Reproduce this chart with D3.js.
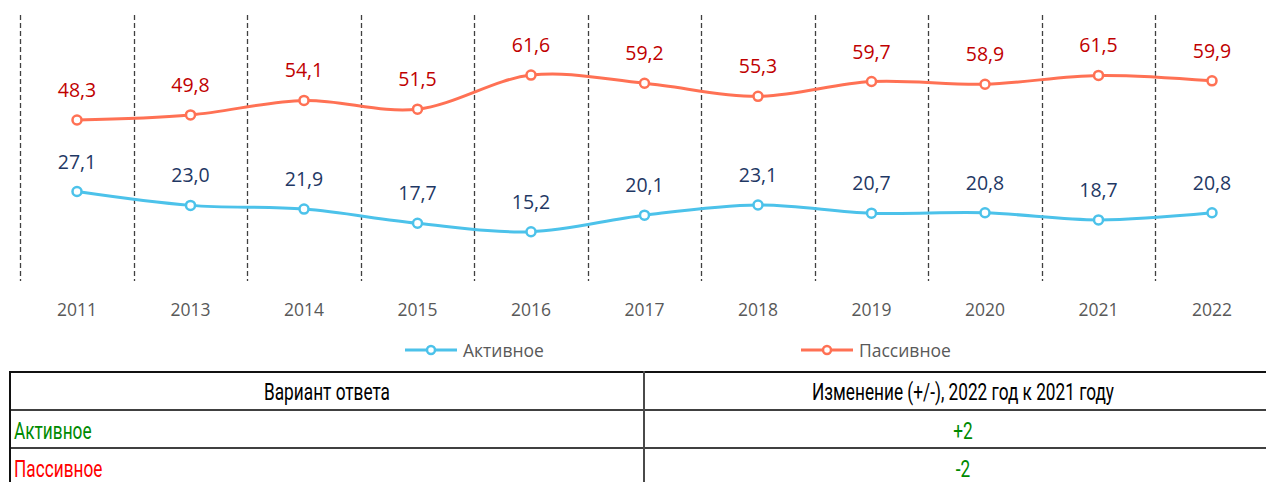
<!DOCTYPE html>
<html>
<head>
<meta charset="utf-8">
<script src="https://cdn.jsdelivr.net/npm/d3@7"></script>
<style>
  body { margin: 0; background: #fff; }
  svg { display: block; }
</style>
</head>
<body>
<div id="chart"></div>
<script>
// -------- data ---------- //
var years = ["2011", "2013", "2014", "2015", "2016", "2017", "2018", "2019", "2020", "2021", "2022"];
var active = [27.1, 23.0, 21.9, 17.7, 15.2, 20.1, 23.1, 20.7, 20.8, 18.7, 20.8];
var passive = [48.3, 49.8, 54.1, 51.5, 61.6, 59.2, 55.3, 59.7, 58.9, 61.5, 59.9];
var seriesNames = ["Активное", "Пассивное"];
var tableHeader = ["Вариант ответа", "Изменение (+/-), 2022 год к 2021 году"];
var tableChange = ["+2", "-2"];

var lineColor = { "Активное": "#4cc2ea", "Пассивное": "#ff7154" };
var labelColor = { "Активное": "#1f3864", "Пассивное": "#c00000" };

var W = 1266, H = 482;
var svg = d3.select("#chart").append("svg").attr("width", W).attr("height", H);

var band = 113.5;
var x = d3.scaleBand().domain(years).range([20.25, 20.25 + band * years.length]).padding(0);
var y = d3.scaleLinear().domain([0, 80]).range([283, 13]);

var chartFont = "'Open Sans', 'Noto Sans', sans-serif";

// dashed dividers between categories
svg.append("g")
  .selectAll("line")
  .data(years)
  .join("line")
  .attr("x1", (d) => Math.round(x(d)) + 0.5)
  .attr("x2", (d) => Math.round(x(d)) + 0.5)
  .attr("y1", 15)
  .attr("y2", 281)
  .attr("stroke", "#404040")
  .attr("stroke-width", 1.3)
  .attr("stroke-dasharray", "5,3");

// year labels
svg.append("g")
  .selectAll("text")
  .data(years)
  .join("text")
  .attr("x", (d) => x(d) + x.bandwidth() / 2)
  .attr("y", 316)
  .attr("text-anchor", "middle")
  .attr("font-family", chartFont)
  .attr("font-size", 17.5)
  .attr("fill", "#595959")
  .text((d) => d);

var series = [
  { name: "Пассивное", values: passive },
  { name: "Активное", values: active },
];

var line = d3
  .line()
  .x((d, i) => x(years[i]) + x.bandwidth() / 2)
  .y((d) => y(d))
  .curve(d3.curveCardinal.tension(0));

series.forEach(function(s) {
  var g = svg.append("g");
  g.append("path")
    .attr("d", line(s.values))
    .attr("fill", "none")
    .attr("stroke", lineColor[s.name])
    .attr("stroke-width", 3)
    .attr("stroke-linecap", "round");
  g.selectAll("circle")
    .data(s.values)
    .join("circle")
    .attr("cx", (d, i) => x(years[i]) + x.bandwidth() / 2)
    .attr("cy", (d) => y(d))
    .attr("r", 4.5)
    .attr("fill", "#fff")
    .attr("stroke", lineColor[s.name])
    .attr("stroke-width", 2.5);
  g.selectAll("text")
    .data(s.values)
    .join("text")
    .attr("x", (d, i) => x(years[i]) + x.bandwidth() / 2)
    .attr("y", (d) => y(d) - 23)
    .attr("text-anchor", "middle")
    .attr("font-family", chartFont)
    .attr("font-size", 19.5)
    .attr("fill", labelColor[s.name])
    .text((d) => d3.format(".1f")(d).replace(".", ","));
});

// legend
var legendX = { "Активное": 405, "Пассивное": 801 };
seriesNames.forEach(function(name) {
  var lg = svg.append("g").attr("transform", "translate(" + legendX[name] + ",350)");
  lg.append("line")
    .attr("x1", 0).attr("x2", 52)
    .attr("stroke", lineColor[name])
    .attr("stroke-width", 3);
  lg.append("circle")
    .attr("cx", 26).attr("r", 4)
    .attr("fill", "#fff")
    .attr("stroke", lineColor[name])
    .attr("stroke-width", 2.5);
  lg.append("text")
    .attr("x", 58).attr("y", 6.5)
    .attr("font-family", chartFont)
    .attr("font-size", 17.5)
    .attr("fill", "#595959")
    .text(name);
});

// table below the chart
var tableFont = "Roboto, 'Liberation Sans', sans-serif";
var squeeze = 0.75;
var tLeft = 10, tMid = 644, tRight = 1282;
var rowTops = [372, 410, 448, 486];
var tg = svg.append("g");

// horizontal borders
tg.selectAll("line.h")
  .data(rowTops)
  .join("line")
  .attr("class", "h")
  .attr("x1", tLeft).attr("x2", tRight)
  .attr("y1", (d) => d).attr("y2", (d) => d)
  .attr("stroke", (d, i) => (i === 0 ? "#111" : "#404040"))
  .attr("stroke-width", 2);
// vertical borders
[tLeft, tMid].forEach(function(vx) {
  tg.append("line")
    .attr("x1", vx).attr("x2", vx)
    .attr("y1", 371).attr("y2", H)
    .attr("stroke", vx === tLeft ? "#111" : "#4a4a4a")
    .attr("stroke-width", 2);
});

function cellText(tx, ty, anchor, color, t) {
  tg.append("text")
    .attr("transform", "translate(" + tx + "," + ty + ") scale(" + squeeze + ",1)")
    .attr("text-anchor", anchor)
    .attr("font-family", tableFont)
    .attr("font-size", 23)
    .attr("fill", color)
    .text(t);
}

tableHeader.forEach(function(t, i) {
  cellText(i === 0 ? (tLeft + tMid) / 2 : (tMid + tRight) / 2, 400, "middle", "#000", t);
});

var rowColors = ["#008a00", "#ff0000"];
seriesNames.forEach(function(name, i) {
  var ty = rowTops[i + 1] + 29;
  cellText(tLeft + 4, ty, "start", rowColors[i], name);
  cellText((tMid + tRight) / 2, ty, "middle", "#008a00", tableChange[i]);
});
</script>
</body>
</html>
